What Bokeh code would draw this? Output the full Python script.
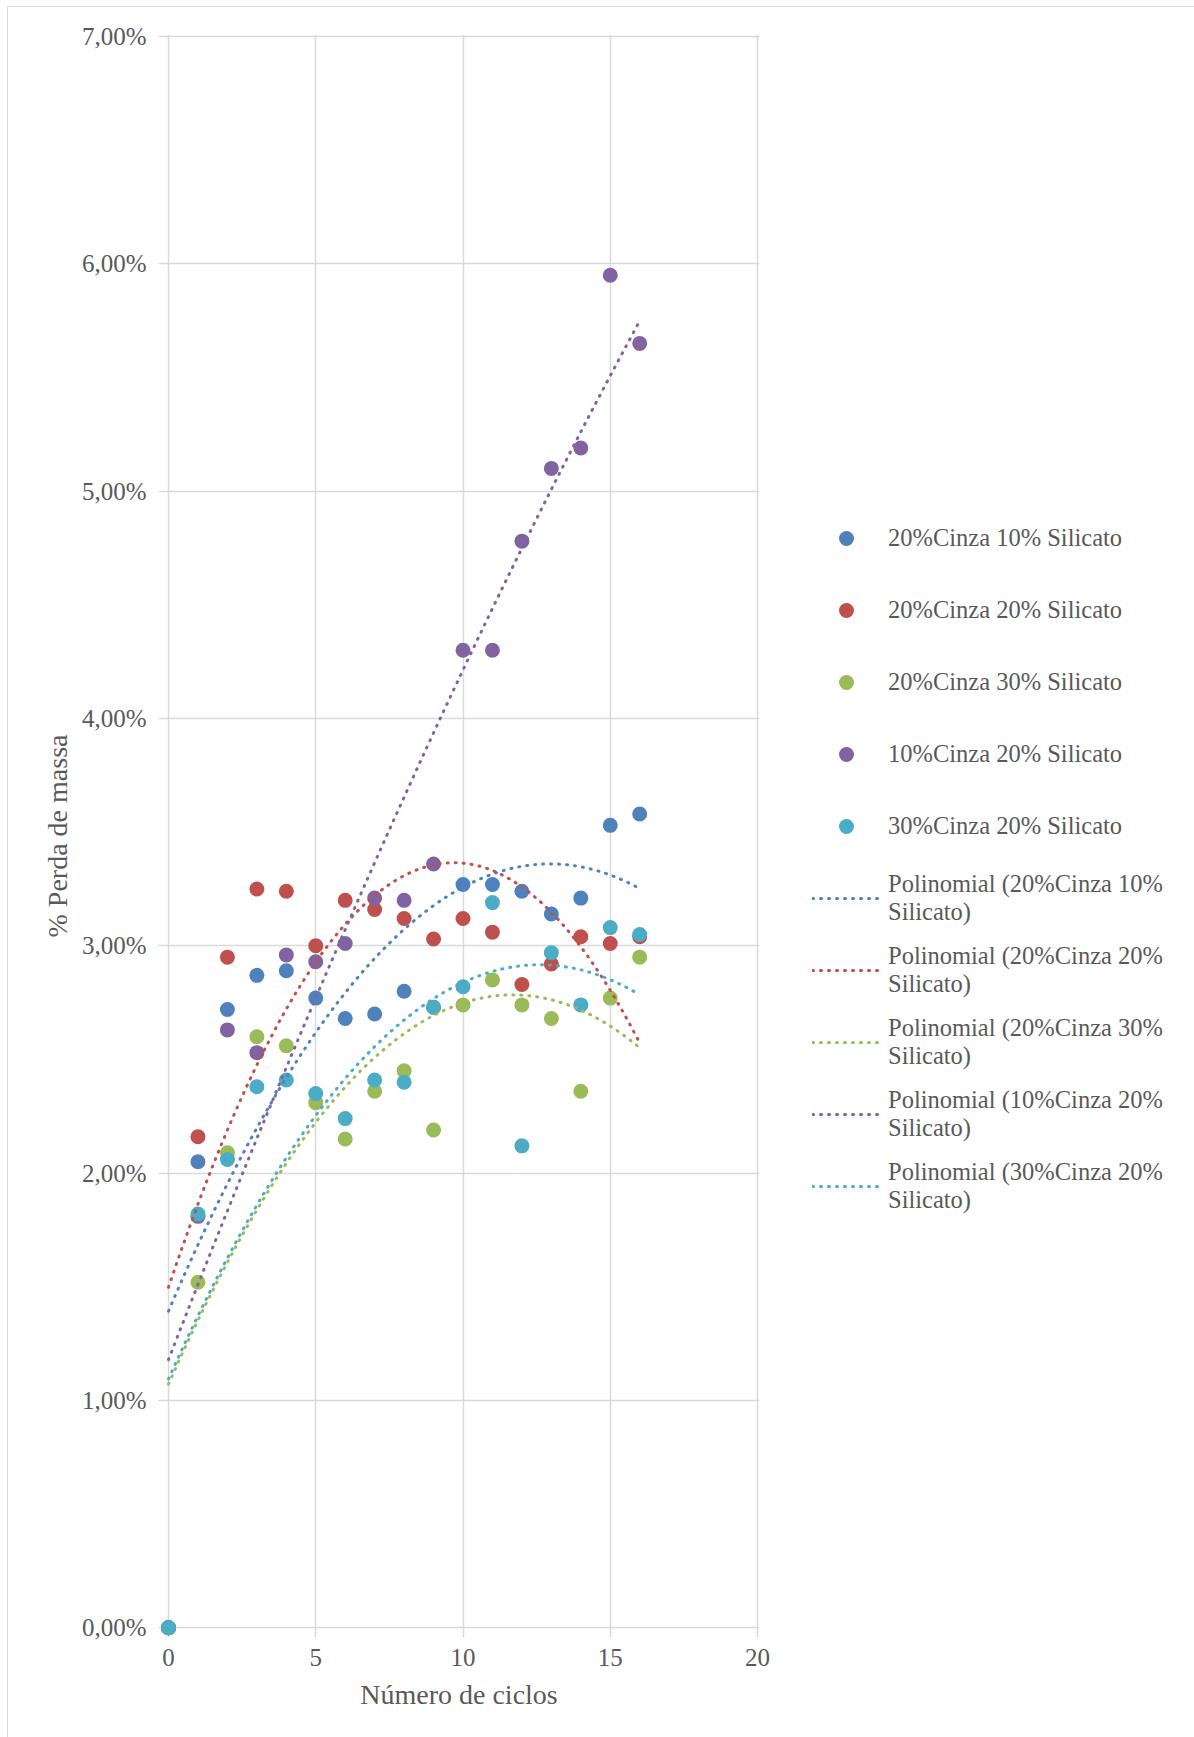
import numpy as np
from bokeh.plotting import figure
from bokeh.models import Range1d, FixedTicker, Legend, LegendItem
from bokeh.embed import file_html
from bokeh.resources import INLINE

# Number of freeze-thaw cycles and mass loss (%) for each mix
cycles = list(range(17))
mix_names = [
    "20%Cinza 10% Silicato",
    "20%Cinza 20% Silicato",
    "20%Cinza 30% Silicato",
    "10%Cinza 20% Silicato",
    "30%Cinza 20% Silicato",
]
loss_c20_s10 = [0, 2.05, 2.72, 2.87, 2.89, 2.77, 2.68, 2.70, 2.80, 2.73, 3.27, 3.27, 3.24, 3.14, 3.21, 3.53, 3.58]
loss_c20_s20 = [0, 2.16, 2.95, 3.25, 3.24, 3.00, 3.20, 3.16, 3.12, 3.03, 3.12, 3.06, 2.83, 2.92, 3.04, 3.01, 3.04]
loss_c20_s30 = [0, 1.52, 2.09, 2.60, 2.56, 2.31, 2.15, 2.36, 2.45, 2.19, 2.74, 2.85, 2.74, 2.68, 2.36, 2.77, 2.95]
loss_c10_s20 = [0, 1.81, 2.63, 2.53, 2.96, 2.93, 3.01, 3.21, 3.20, 3.36, 4.30, 4.30, 4.78, 5.10, 5.19, 5.95, 5.65]
loss_c30_s20 = [0, 1.82, 2.06, 2.38, 2.41, 2.35, 2.24, 2.41, 2.40, 2.73, 2.82, 3.19, 2.12, 2.97, 2.74, 3.08, 3.05]
mix_values = [loss_c20_s10, loss_c20_s20, loss_c20_s30, loss_c10_s20, loss_c30_s20]
mix_colors = ["#4F81BD", "#C0504D", "#9BBB59", "#8064A2", "#4BACC6"]

x_ticks = [0, 5, 10, 15, 20]
y_ticks = [0, 1, 2, 3, 4, 5, 6, 7]
y_tick_labels = ["0,00%", "1,00%", "2,00%", "3,00%", "4,00%", "5,00%", "6,00%", "7,00%"]

FONT = "Liberation Serif"
TEXT = "#595959"
GRID = "#d9d9d9"
MARKER = 15
SWATCH_W = 68

p = figure(
    frame_width=601, frame_height=1603,
    x_range=Range1d(-0.34, 20.068), y_range=Range1d(-0.0427, 7.0088),
    min_border_left=150, min_border_right=80, min_border_top=27, min_border_bottom=100,
    output_backend="svg", toolbar_location=None,
    styles={"margin-left": "7px", "margin-top": "6px",
            "border-left": f"1px solid {GRID}", "border-top": f"1px solid {GRID}"},
)
p.outline_line_color = None
p.background_fill_color = "white"
p.border_fill_color = "white"

for ax in (p.xaxis[0], p.yaxis[0]):
    ax.axis_line_color = None
    ax.major_tick_line_color = None
    ax.minor_tick_line_color = None
    ax.major_tick_in = 0
    ax.major_tick_out = 0
    ax.minor_tick_in = 0
    ax.minor_tick_out = 0
    ax.major_label_text_font = FONT
    ax.major_label_text_font_size = "25px"
    ax.major_label_text_color = TEXT
    ax.axis_label_text_font = FONT
    ax.axis_label_text_font_size = "28px"
    ax.axis_label_text_font_style = "normal"
    ax.axis_label_text_color = TEXT

p.xaxis.ticker = FixedTicker(ticks=x_ticks)
p.yaxis.ticker = FixedTicker(ticks=y_ticks)
p.yaxis.major_label_overrides = {t: lab for t, lab in zip(y_ticks, y_tick_labels)}
p.xaxis.axis_label = "Número de ciclos"
p.yaxis.axis_label = "% Perda de massa"
p.xaxis.major_label_standoff = 11
p.yaxis.major_label_standoff = 12
p.xaxis.axis_label_standoff = 10
p.yaxis.axis_label_standoff = 6

for g in (p.xgrid[0], p.ygrid[0]):
    g.grid_line_color = GRID
    g.grid_line_width = 1.5

# Measured points
point_items = []
for name, vals, col in zip(mix_names, mix_values, mix_colors):
    p.scatter(cycles, vals, size=MARKER, fill_color=col, line_color=col, line_alpha=0)
    # hidden twin whose legend swatch is a single round dot in the middle of the swatch
    swatch = p.line(cycles, vals, line_color=col, line_width=MARKER, line_cap="round",
                    line_dash="0 200", line_dash_offset=200 - SWATCH_W // 2, visible=False)
    point_items.append(LegendItem(label=name, renderers=[swatch]))

# Second-order polynomial trend lines fitted to each mix
x_fit = np.linspace(0, max(cycles), 300)
trend_items = []
for name, vals, col in zip(mix_names, mix_values, mix_colors):
    coef = np.polyfit(cycles, vals, 2)
    r = p.line(x_fit, np.polyval(coef, x_fit), line_color=col, line_width=3,
               line_dash="1 7", line_cap="round")
    head, tail = name.rsplit(" ", 1)
    trend_items.append(LegendItem(label=f"Polinomial ({head}\n{tail})", renderers=[r]))

legend = Legend(
    items=point_items + trend_items,
    location=(53, 421),
    glyph_width=SWATCH_W, glyph_height=60, label_standoff=8, spacing=12,
    padding=0, margin=0, click_policy="none", inactive_fill_alpha=0,
    label_text_font=FONT, label_text_font_size="24.5px", label_text_color=TEXT,
    border_line_color=None, background_fill_alpha=0,
)
p.add_layout(legend, "right")

open("out.html", "w").write(file_html(p, INLINE))
